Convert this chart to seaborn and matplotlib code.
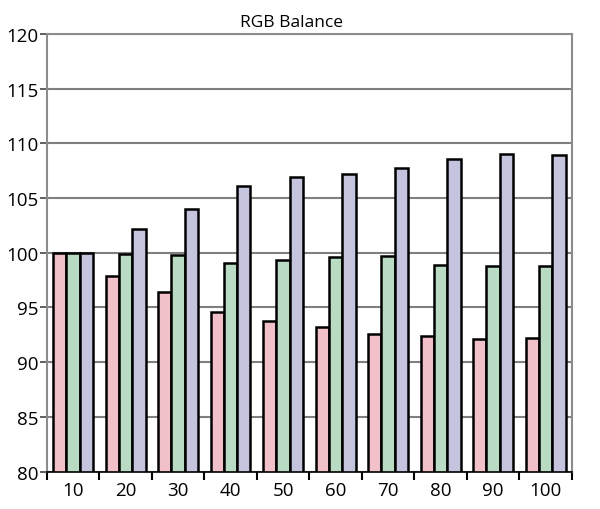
import matplotlib
matplotlib.use("Agg")
import matplotlib.pyplot as plt
import seaborn as sns
import pandas as pd
import numpy as np

categories = ["10", "20", "30", "40", "50", "60", "70", "80", "90", "100"]
red = [100.0, 97.9, 96.4, 94.6, 93.8, 93.2, 92.6, 92.4, 92.1, 92.2]
green = [100.0, 99.9, 99.8, 99.1, 99.3, 99.6, 99.7, 98.9, 98.8, 98.8]
blue = [100.0, 102.2, 104.0, 106.1, 106.9, 107.2, 107.7, 108.6, 109.0, 108.9]
series_names = ["Red", "Green", "Blue"]
colors = ["#f9b8c2", "#b4e0c0", "#c0c0e2"]

df = pd.DataFrame({
    "level": categories * 3,
    "value": red + green + blue,
    "channel": [s for s in series_names for _ in categories],
})

sns.set_style("white")
plt.rcParams["font.family"] = ["Open Sans", "DejaVu Sans"]
plt.rcParams["text.color"] = "black"
plt.rcParams["xtick.color"] = "black"
plt.rcParams["ytick.color"] = "black"

fig = plt.figure(figsize=(6, 5.1), dpi=100)
ax = fig.add_axes([0.078, 0.0735, 0.875, 0.858])

sns.barplot(data=df, x="level", y="value", hue="channel", order=categories,
            hue_order=series_names, palette=colors, width=0.76, gap=0.0,
            edgecolor="black", linewidth=1.8, ax=ax, legend=False)

ax.set_ylim(80, 120)
ax.set_xlim(-0.5, len(categories) - 0.5)
ax.set_yticks(np.arange(80, 121, 5))
ax.yaxis.grid(True, color="#7f7f7f", linewidth=1.5)
ax.set_axisbelow(True)
ax.set_xlabel("")
ax.set_ylabel("")
ax.set_title("RGB Balance", fontsize=12.5, pad=6, x=0.466, color="black")

for s in ax.spines.values():
    s.set_color("#8c8c8c")
    s.set_linewidth(1.5)
ax.spines["bottom"].set_color("black")
ax.spines["bottom"].set_linewidth(1.2)

ax.tick_params(axis="y", which="major", length=5, width=1.2, color="#444444",
               labelcolor="black", labelsize=13.5, pad=1, left=True, direction="out")
ax.tick_params(axis="x", which="major", length=0, labelsize=13.5, pad=7,
               labelcolor="black")
ax.set_xticks(np.arange(-0.5, len(categories), 1.0), minor=True)
ax.tick_params(axis="x", which="minor", length=6, width=1.5, color="black",
               bottom=True, direction="out")

fig.savefig("out.png", dpi=100)
